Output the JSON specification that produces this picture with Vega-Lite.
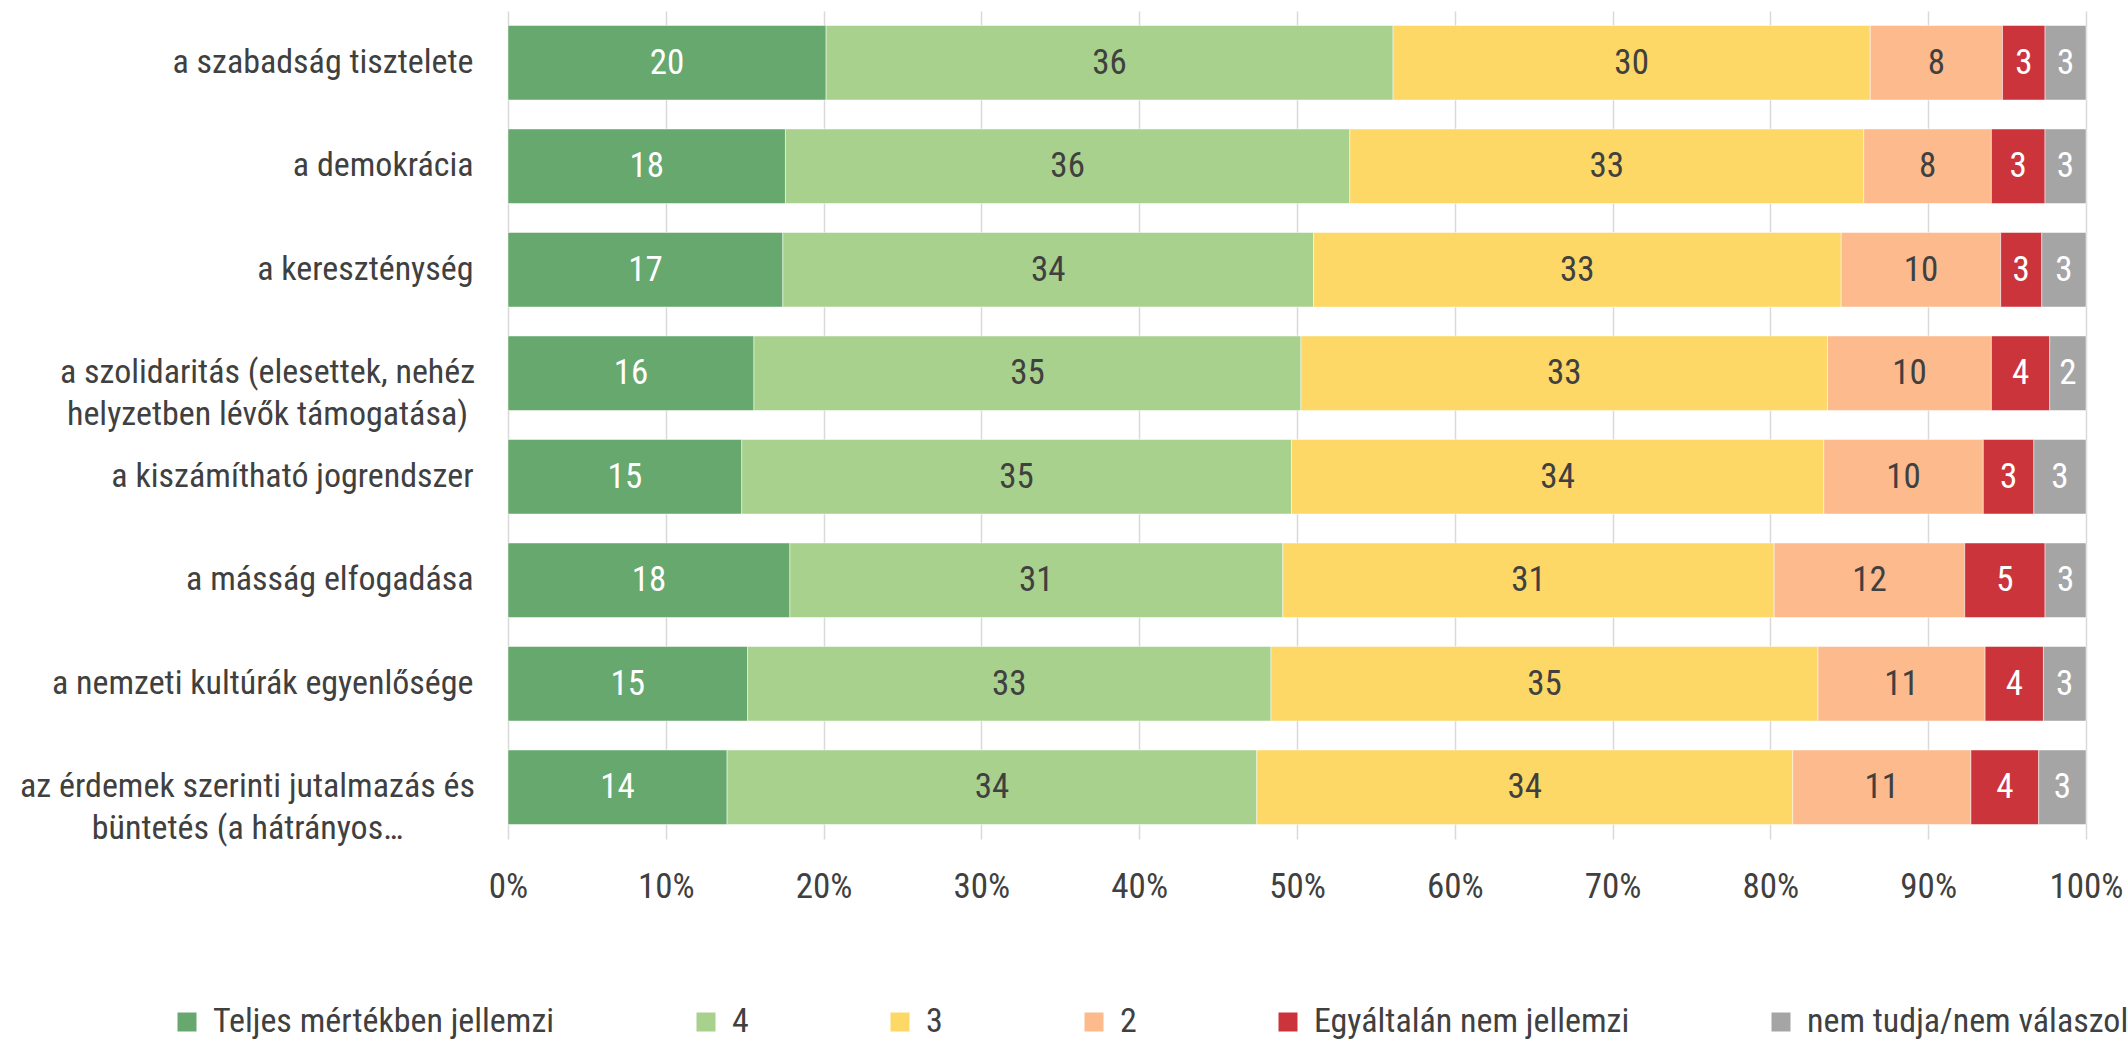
{
  "$schema": "https://vega.github.io/schema/vega-lite/v6.json",
  "autosize": {"type": "none"},
  "width": 1578,
  "height": 828,
  "padding": {"left": 508, "top": 11, "right": 42, "bottom": 202},
  "background": "white",
  "config": {
    "view": {"stroke": null},
    "font": "'Roboto Condensed', 'Noto Sans Condensed', 'DejaVu Sans Condensed', sans-serif"
  },
  "data": {
    "values": [
      {"cat": "a szabadság tisztelete", "resp": "Teljes mértékben jellemzi", "o": 1, "v": 20.2},
      {"cat": "a szabadság tisztelete", "resp": "4", "o": 2, "v": 36.0},
      {"cat": "a szabadság tisztelete", "resp": "3", "o": 3, "v": 30.3},
      {"cat": "a szabadság tisztelete", "resp": "2", "o": 4, "v": 8.4},
      {"cat": "a szabadság tisztelete", "resp": "Egyáltalán nem jellemzi", "o": 5, "v": 2.7},
      {"cat": "a szabadság tisztelete", "resp": "nem tudja/nem válaszol", "o": 6, "v": 2.6},
      {"cat": "a demokrácia", "resp": "Teljes mértékben jellemzi", "o": 1, "v": 17.6},
      {"cat": "a demokrácia", "resp": "4", "o": 2, "v": 35.8},
      {"cat": "a demokrácia", "resp": "3", "o": 3, "v": 32.6},
      {"cat": "a demokrácia", "resp": "2", "o": 4, "v": 8.1},
      {"cat": "a demokrácia", "resp": "Egyáltalán nem jellemzi", "o": 5, "v": 3.4},
      {"cat": "a demokrácia", "resp": "nem tudja/nem válaszol", "o": 6, "v": 2.6},
      {"cat": "a kereszténység", "resp": "Teljes mértékben jellemzi", "o": 1, "v": 17.4},
      {"cat": "a kereszténység", "resp": "4", "o": 2, "v": 33.6},
      {"cat": "a kereszténység", "resp": "3", "o": 3, "v": 33.4},
      {"cat": "a kereszténység", "resp": "2", "o": 4, "v": 10.1},
      {"cat": "a kereszténység", "resp": "Egyáltalán nem jellemzi", "o": 5, "v": 2.6},
      {"cat": "a kereszténység", "resp": "nem tudja/nem válaszol", "o": 6, "v": 2.8},
      {"cat": "a szolidaritás (elesettek, nehéz|helyzetben lévők támogatása)", "resp": "Teljes mértékben jellemzi", "o": 1, "v": 15.6},
      {"cat": "a szolidaritás (elesettek, nehéz|helyzetben lévők támogatása)", "resp": "4", "o": 2, "v": 34.7},
      {"cat": "a szolidaritás (elesettek, nehéz|helyzetben lévők támogatása)", "resp": "3", "o": 3, "v": 33.4},
      {"cat": "a szolidaritás (elesettek, nehéz|helyzetben lévők támogatása)", "resp": "2", "o": 4, "v": 10.4},
      {"cat": "a szolidaritás (elesettek, nehéz|helyzetben lévők támogatása)", "resp": "Egyáltalán nem jellemzi", "o": 5, "v": 3.7},
      {"cat": "a szolidaritás (elesettek, nehéz|helyzetben lévők támogatása)", "resp": "nem tudja/nem válaszol", "o": 6, "v": 2.3},
      {"cat": "a kiszámítható jogrendszer", "resp": "Teljes mértékben jellemzi", "o": 1, "v": 14.8},
      {"cat": "a kiszámítható jogrendszer", "resp": "4", "o": 2, "v": 34.8},
      {"cat": "a kiszámítható jogrendszer", "resp": "3", "o": 3, "v": 33.7},
      {"cat": "a kiszámítható jogrendszer", "resp": "2", "o": 4, "v": 10.1},
      {"cat": "a kiszámítható jogrendszer", "resp": "Egyáltalán nem jellemzi", "o": 5, "v": 3.2},
      {"cat": "a kiszámítható jogrendszer", "resp": "nem tudja/nem válaszol", "o": 6, "v": 3.3},
      {"cat": "a másság elfogadása", "resp": "Teljes mértékben jellemzi", "o": 1, "v": 17.9},
      {"cat": "a másság elfogadása", "resp": "4", "o": 2, "v": 31.3},
      {"cat": "a másság elfogadása", "resp": "3", "o": 3, "v": 31.2},
      {"cat": "a másság elfogadása", "resp": "2", "o": 4, "v": 12.1},
      {"cat": "a másság elfogadása", "resp": "Egyáltalán nem jellemzi", "o": 5, "v": 5.1},
      {"cat": "a másság elfogadása", "resp": "nem tudja/nem válaszol", "o": 6, "v": 2.6},
      {"cat": "a nemzeti kultúrák egyenlősége", "resp": "Teljes mértékben jellemzi", "o": 1, "v": 15.2},
      {"cat": "a nemzeti kultúrák egyenlősége", "resp": "4", "o": 2, "v": 33.2},
      {"cat": "a nemzeti kultúrák egyenlősége", "resp": "3", "o": 3, "v": 34.7},
      {"cat": "a nemzeti kultúrák egyenlősége", "resp": "2", "o": 4, "v": 10.6},
      {"cat": "a nemzeti kultúrák egyenlősége", "resp": "Egyáltalán nem jellemzi", "o": 5, "v": 3.7},
      {"cat": "a nemzeti kultúrák egyenlősége", "resp": "nem tudja/nem válaszol", "o": 6, "v": 2.7},
      {"cat": "az érdemek szerinti jutalmazás és|büntetés (a hátrányos…", "resp": "Teljes mértékben jellemzi", "o": 1, "v": 13.9},
      {"cat": "az érdemek szerinti jutalmazás és|büntetés (a hátrányos…", "resp": "4", "o": 2, "v": 33.6},
      {"cat": "az érdemek szerinti jutalmazás és|büntetés (a hátrányos…", "resp": "3", "o": 3, "v": 34.0},
      {"cat": "az érdemek szerinti jutalmazás és|büntetés (a hátrányos…", "resp": "2", "o": 4, "v": 11.3},
      {"cat": "az érdemek szerinti jutalmazás és|büntetés (a hátrányos…", "resp": "Egyáltalán nem jellemzi", "o": 5, "v": 4.3},
      {"cat": "az érdemek szerinti jutalmazás és|büntetés (a hátrányos…", "resp": "nem tudja/nem válaszol", "o": 6, "v": 3.0}
    ]
  },
  "encoding": {
    "y": {
      "field": "cat",
      "type": "nominal",
      "sort": null,
      "scale": {"paddingInner": 0.28, "paddingOuter": 0.14},
      "axis": {
        "title": null,
        "domain": false,
        "ticks": false,
        "grid": false,
        "labelAlign": {
          "condition": {"test": "indexof(datum.value, '|') >= 0", "value": "center"},
          "value": "right"
        },
        "labelPadding": {
          "condition": [
            {"test": "indexof(datum.value, 'szolidarit') >= 0", "value": 241},
            {"test": "indexof(datum.value, '|') >= 0", "value": 261}
          ],
          "value": 35
        },
        "labelFontSize": 34,
        "labelColor": "#404040",
        "labelLimit": 800,
        "labelLineHeight": 42,
        "labelExpr": "split(datum.label, '|')"
      }
    },
    "x": {
      "field": "v",
      "type": "quantitative",
      "stack": "normalize",
      "scale": {"domain": [0, 1], "nice": false},
      "axis": {
        "title": null,
        "format": ".0%",
        "values": [0, 0.1, 0.2, 0.3, 0.4, 0.5, 0.6, 0.7, 0.8, 0.9, 1],
        "domain": false,
        "ticks": false,
        "grid": true,
        "gridColor": "#D9D9D9",
        "gridWidth": 1.5,
        "labelPadding": 30,
        "labelFontSize": 35,
        "labelColor": "#404040",
        "labelFlush": false
      }
    },
    "order": {"field": "o", "type": "quantitative"}
  },
  "layer": [
    {
      "mark": {"type": "bar", "stroke": "white", "strokeWidth": 0.8, "strokeOpacity": 0.6},
      "encoding": {
        "color": {
          "field": "resp",
          "type": "nominal",
          "sort": null,
          "scale": {
            "domain": ["Teljes mértékben jellemzi", "4", "3", "2", "Egyáltalán nem jellemzi", "nem tudja/nem válaszol"],
            "range": ["#66A86E", "#A9D18E", "#FDD866", "#FDBA8C", "#CC343B", "#A5A5A5"]
          },
          "legend": {
            "title": null,
            "orient": "none",
            "direction": "horizontal",
            "legendX": -338,
            "legendY": 994,
            "offset": 0,
            "padding": 0,
            "symbolType": "square",
            "symbolSize": 361,
            "symbolStrokeWidth": 0,
            "labelOffset": 9,
            "columnPadding": 134,
            "labelFontSize": 34,
            "labelColor": "#404040",
            "labelLimit": 1000
          }
        }
      }
    },
    {
      "mark": {"type": "text", "fontSize": 35, "baseline": "middle", "align": "center"},
      "encoding": {
        "x": {"field": "v", "type": "quantitative", "stack": "normalize", "bandPosition": 0.5},
        "text": {"field": "v", "type": "quantitative", "format": ".0f"},
        "color": {
          "condition": {"test": "datum.o == 1 || datum.o == 5 || datum.o == 6", "value": "white"},
          "value": "#404040"
        }
      }
    }
  ]
}
